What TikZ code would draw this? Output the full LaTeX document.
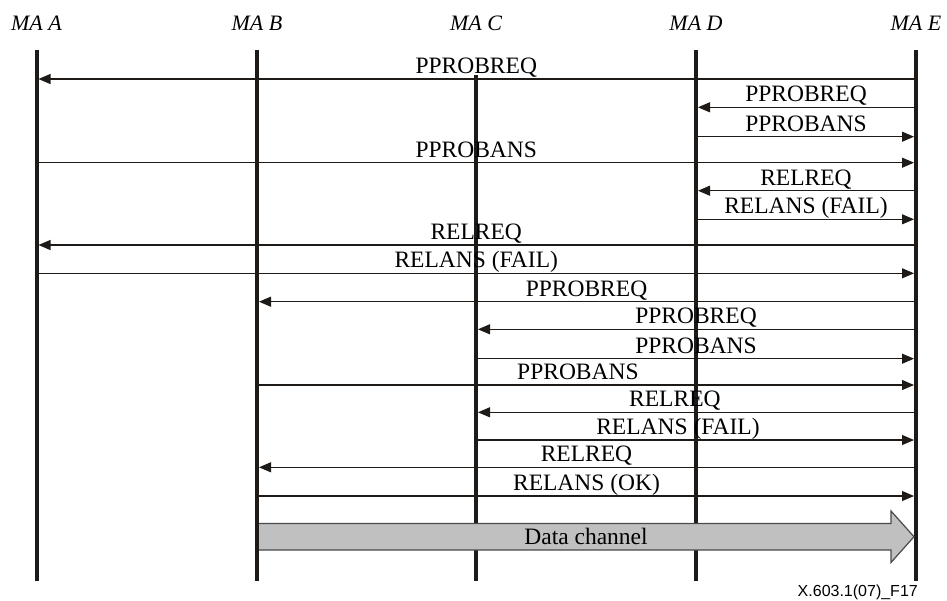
\documentclass[tikz,border=0pt]{standalone}
\usepackage{fontspec}
\setmainfont{Liberation Serif}
\newfontfamily\figsans{Liberation Sans}
\usetikzlibrary{arrows.meta}
\definecolor{ink}{HTML}{1E1A18}
\definecolor{chan}{HTML}{C0C0C0}
\definecolor{chanedge}{HTML}{4A4A4A}
\begin{document}
\begin{tikzpicture}[x=1pt,y=-1pt,
  lifeline/.style={line width=4pt,draw=ink},
  msg/.style={line width=1.1pt,draw=ink,-{Triangle[length=12pt,width=10pt]},shorten <=2pt,shorten >=2pt},
  lbl/.style={anchor=base,yshift=5.5pt,inner sep=0pt,font=\fontsize{23.5}{28}\selectfont},
  head/.style={anchor=base,inner sep=0pt,font=\fontsize{22}{26}\selectfont\itshape}]
\useasboundingbox (0,0) rectangle (947,600);
% headers
\foreach \n/\x in {A/36.5,B/257,C/476,D/696,E/916}{
  \node[head] (h\n) at (\x,30) {MA \n};
  \coordinate (bot\n) at (\x,581);
}
\coordinate (topA) at (36.5,50);
\coordinate (topB) at (257,50);
\coordinate (topC) at (476,75);
\coordinate (topD) at (696,50);
\coordinate (topE) at (916,50);
\foreach \n in {A,B,C,D,E}{\draw[lifeline] (top\n) -- (bot\n);}
% message coordinates
\foreach \i/\y in {1/79,2/107.3,3/136.7,4/162.7,5/190.7,6/219.3,7/245,8/273.3,9/301.7,10/329.3,11/358.7,12/385,13/412.3,14/440,15/467.3,16/496}{
  \foreach \n/\x in {A/36.5,B/257,C/476,D/696,E/916}{\coordinate (\n\i) at (\x,\y);}
}
\draw[msg] (E1) -- (A1) node[lbl,midway] {PPROBREQ};
\draw[msg] (E2) -- (D2) node[lbl,midway] {PPROBREQ};
\draw[msg] (D3) -- (E3) node[lbl,midway] {PPROBANS};
\draw[msg] (A4) -- (E4) node[lbl,midway] {PPROBANS};
\draw[msg] (E5) -- (D5) node[lbl,midway] {RELREQ};
\draw[msg] (D6) -- (E6) node[lbl,midway] {RELANS (FAIL)};
\draw[msg] (E7) -- (A7) node[lbl,midway] {RELREQ};
\draw[msg] (A8) -- (E8) node[lbl,midway] {RELANS (FAIL)};
\draw[msg] (E9) -- (B9) node[lbl,midway] {PPROBREQ};
\draw[msg] (E10) -- (C10) node[lbl,midway] {PPROBREQ};
\draw[msg] (C11) -- (E11) node[lbl,midway] {PPROBANS};
\draw[msg] (B12) -- (E12) node[lbl,pos=0.487] {PPROBANS};
\draw[msg] (E13) -- (C13) node[lbl,pos=0.548] {RELREQ};
\draw[msg] (C14) -- (E14) node[lbl,pos=0.459] {RELANS (FAIL)};
\draw[msg] (E15) -- (B15) node[lbl,midway] {RELREQ};
\draw[msg] (B16) -- (E16) node[lbl,midway] {RELANS (OK)};
% data channel
\draw[fill=chan,draw=chanedge,line width=1.2pt,line join=miter]
  (258,523.5) -- (891,523.5) -- (891,511) -- (914,536.7) -- (891,562.5) -- (891,550) -- (258,550);
\draw[lifeline] (topB) -- (botB);
\node[inner sep=0pt,font=\fontsize{23.5}{28}\selectfont] (dc) at (586,536.7) {Data channel};
\node[anchor=base east,inner sep=0pt,font=\figsans\fontsize{16}{19}\selectfont] (fig) at (918,596.5) {X.603.1(07)\_F17};
\end{tikzpicture}
\end{document}
